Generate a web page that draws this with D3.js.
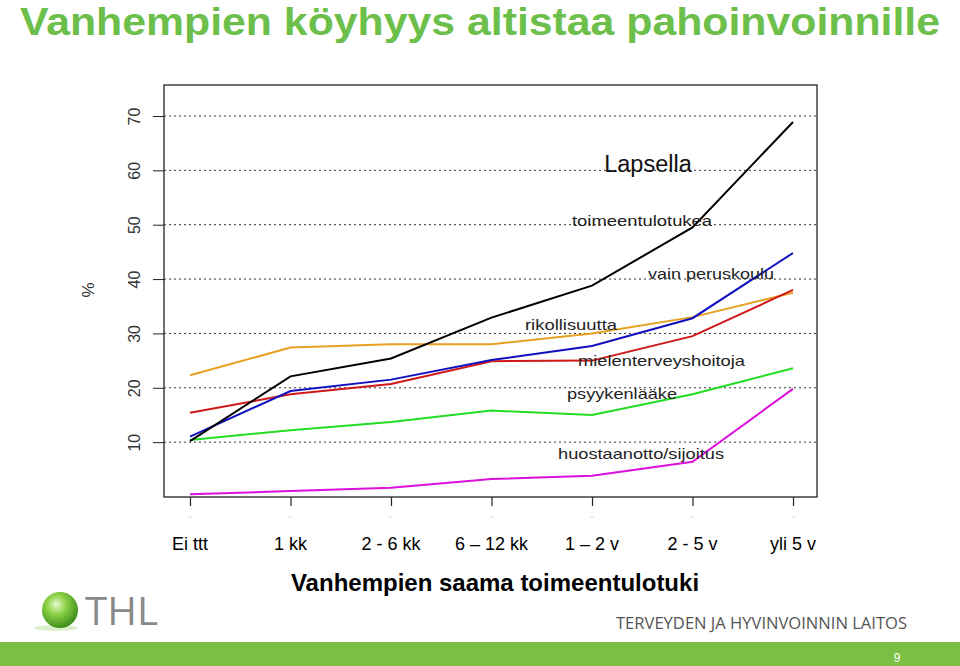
<!DOCTYPE html>
<html><head><meta charset="utf-8">
<script src="https://cdn.jsdelivr.net/npm/d3@7"></script>
<style>body{margin:0;background:#fff;} svg{display:block;font-family:Arial,"Liberation Sans",sans-serif;}</style>
</head><body>
<div id="chart"></div>
<script>
const categories = ["Ei ttt","1 kk","2 - 6 kk","6 – 12 kk","1 – 2 v","2 - 5 v","yli 5 v"];
const yTicks = [10,20,30,40,50,60,70];
const toimeentulotukea = [10.2,22.1,25.4,32.9,38.8,49.5,68.9];
const vainPeruskoulu = [11.0,19.4,21.5,25.1,27.7,32.8,44.8];
const rikollisuutta = [22.3,27.4,28.0,28.0,30.0,33.0,37.5];
const mielenterveyshoitoja = [15.4,18.8,20.7,24.9,25.0,29.5,38.0];
const psyykenlaake = [10.4,12.2,13.7,15.8,15.0,18.8,23.6];
const huostaanotto = [0.4,1.0,1.6,3.2,3.8,6.4,19.8];
const seriesNames = ["rikollisuutta","mielenterveyshoitoja","vain peruskoulu","psyykenlääke","huostaanotto/sijoitus","toimeentulotukea"];

// styling / layout (kept separate from data)
const colors = ["#e8a020","#d01818","#1010c0","#22dd22","#dd10dd","#000000"];
const labelLayout = [
  {x:525,y:330,w:92},
  {x:578,y:366,w:167},
  {x:648,y:279,w:126},
  {x:567,y:399,w:110},
  {x:558,y:459,w:166},
  {x:572,y:226,w:140}
];
const seriesValues = [rikollisuutta,mielenterveyshoitoja,vainPeruskoulu,psyykenlaake,huostaanotto,toimeentulotukea];
const series = seriesNames.map((n,i)=>({name:n, values:seriesValues[i], color:colors[i], lab:labelLayout[i]}));

const W=960,H=666;
const svg=d3.select("#chart").append("svg").attr("width",W).attr("height",H);

// title
svg.append("text").attr("x",20).attr("y",35).attr("fill","#6dbf4b")
  .attr("font-size",38).attr("font-weight","bold").attr("textLength",920).attr("lengthAdjust","spacingAndGlyphs")
  .text("Vanhempien köyhyys altistaa pahoinvoinnille");

const box={l:164,r:817,t:85,b:497};
const x=d3.scalePoint().domain(categories).range([190,793]);
const y=d3.scaleLinear().domain([0,70]).range([496.5,116]);

svg.append("rect").attr("x",box.l).attr("y",box.t).attr("width",box.r-box.l).attr("height",box.b-box.t)
  .attr("fill","none").attr("stroke","#222").attr("stroke-width",1.3);

// grid
svg.append("g").selectAll("line").data(yTicks).join("line")
  .attr("x1",box.l).attr("x2",box.r).attr("y1",d=>y(d)).attr("y2",d=>y(d))
  .attr("stroke","#333").attr("stroke-width",1).attr("stroke-dasharray","2,3");

// y axis
const ya=svg.append("g").attr("transform",`translate(${box.l},0)`)
  .call(d3.axisLeft(y).tickValues(yTicks).tickSize(11).tickPadding(0).tickFormat(d3.format("d")));
ya.select(".domain").remove();
ya.selectAll(".tick line").attr("stroke","#222");
ya.selectAll(".tick text").attr("transform","rotate(-90)").attr("text-anchor","middle")
  .attr("x",0).attr("y",-24).attr("dy",0).attr("font-size",16).attr("fill","#333").attr("font-family","Arial");

// x axis
const xa=svg.append("g").attr("transform",`translate(0,${box.b})`)
  .call(d3.axisBottom(x).tickSize(9).tickFormat(""));
xa.select(".domain").remove();
xa.selectAll(".tick line").attr("stroke","#222").attr("stroke-width",1.2);
// faint tick marks under axis
svg.append("g").selectAll("line").data(categories).join("line")
  .attr("x1",d=>x(d)-2).attr("x2",d=>x(d)+2).attr("y1",517).attr("y2",517)
  .attr("stroke","#ddd").attr("stroke-width",1);
svg.append("g").selectAll("text").data(categories).join("text")
  .attr("x",d=>x(d)).attr("y",550).attr("text-anchor","middle").attr("font-size",18).attr("fill","#000")
  .text(d=>d);

// % label
svg.append("text").attr("transform","translate(94,290) rotate(-90)").attr("text-anchor","middle")
  .attr("font-size",17).attr("fill","#333").text("%");

// lines
const line=d3.line().x((d,i)=>x(categories[i])).y(d=>y(d));
svg.append("g").selectAll("path").data(series).join("path")
  .attr("d",d=>line(d.values)).attr("fill","none").attr("stroke",d=>d.color).attr("stroke-width",2);

// labels
svg.append("g").selectAll("text").data(series).join("text")
  .attr("x",d=>d.lab.x).attr("y",d=>d.lab.y).attr("font-size",14.5).attr("fill","#222")
  .attr("textLength",d=>d.lab.w).attr("lengthAdjust","spacingAndGlyphs")
  .text(d=>d.name);
svg.append("text").attr("x",648).attr("y",172).attr("text-anchor","middle").attr("font-size",23.5).attr("fill","#111").text("Lapsella");

// x title
svg.append("text").attr("x",495).attr("y",591).attr("text-anchor","middle").attr("font-size",24).attr("font-weight","bold").attr("fill","#000")
  .text("Vanhempien saama toimeentulotuki");

// logo
const defs=svg.append("defs");
const rg=defs.append("radialGradient").attr("id","ball").attr("cx","40%").attr("cy","35%").attr("r","65%");
rg.append("stop").attr("offset","0%").attr("stop-color","#e8f8d0");
rg.append("stop").attr("offset","40%").attr("stop-color","#8fd44a");
rg.append("stop").attr("offset","100%").attr("stop-color","#3d8f1a");
svg.append("ellipse").attr("cx",56).attr("cy",628).attr("rx",22).attr("ry",3).attr("fill","#dcefcc");
svg.append("circle").attr("cx",60).attr("cy",610).attr("r",18).attr("fill","url(#ball)");
svg.append("text").attr("x",85).attr("y",625).attr("font-size",38).attr("fill","#8a8a8a")
  .attr("textLength",73).attr("lengthAdjust","spacingAndGlyphs").attr("font-family","'Open Sans',Arial").text("THL");
svg.append("text").attr("x",907).attr("y",629).attr("text-anchor","end").attr("font-size",16).attr("fill","#555")
  .attr("textLength",291).attr("lengthAdjust","spacingAndGlyphs")
  .attr("font-family","'Open Sans',Arial").text("TERVEYDEN JA HYVINVOINNIN LAITOS");

// bottom bar
svg.append("rect").attr("x",0).attr("y",642).attr("width",W).attr("height",24).attr("fill","#7bbf44");
svg.append("text").attr("x",897).attr("y",662).attr("text-anchor","middle").attr("font-size",12).attr("fill","#fff").text("9");
</script>
</body></html>
